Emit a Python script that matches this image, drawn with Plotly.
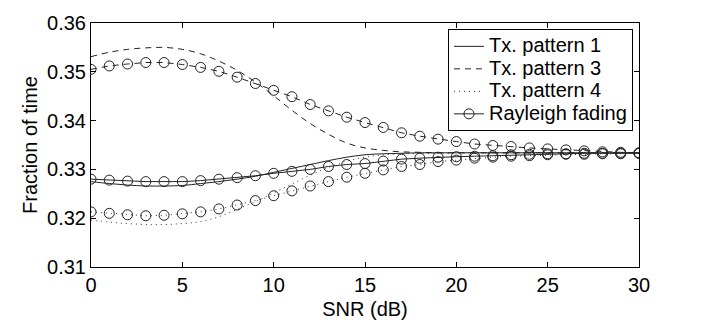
import plotly.graph_objs as go

# SNR grid (dB)
snr = list(range(0, 31))

# analytic curves at integer SNR
tx_pattern_1 = [0.3275, 0.3271, 0.3268, 0.3266, 0.3266, 0.3267, 0.3271, 0.3275, 0.3280, 0.3286,
                0.3294, 0.3302, 0.3310, 0.3318, 0.3325, 0.3330, 0.3332, 0.3333, 0.3334, 0.3334,
                0.3334, 0.3334, 0.3334, 0.3334, 0.3334, 0.3334, 0.3334, 0.3334, 0.3334, 0.3334, 0.3334]
tx_pattern_3 = [0.3531, 0.3540, 0.3546, 0.3549, 0.3550, 0.3546, 0.3537, 0.3522, 0.3503, 0.3479,
                0.3451, 0.3421, 0.3394, 0.3372, 0.3354, 0.3344, 0.3339, 0.3336, 0.3335, 0.3334,
                0.3334, 0.3334, 0.3334, 0.3334, 0.3334, 0.3334, 0.3334, 0.3334, 0.3334, 0.3334, 0.3334]
tx_pattern_4 = [0.3196, 0.3192, 0.3189, 0.3187, 0.3187, 0.3189, 0.3193, 0.3203, 0.3218, 0.3234,
                0.3252, 0.3270, 0.3288, 0.3304, 0.3317, 0.3325, 0.3330, 0.3332, 0.3333, 0.3333,
                0.3334, 0.3334, 0.3334, 0.3334, 0.3334, 0.3334, 0.3334, 0.3334, 0.3334, 0.3334, 0.3334]

# Rayleigh fading simulations (circles)
rayleigh_1 = [0.3280, 0.3278, 0.3276, 0.3275, 0.3275, 0.3275, 0.3277, 0.3280, 0.3283, 0.3287,
              0.3292, 0.3296, 0.3300, 0.3306, 0.3310, 0.3312, 0.3317, 0.3321, 0.3323, 0.3325,
              0.3326, 0.3327, 0.3328, 0.3330, 0.3331, 0.3332, 0.3332, 0.3333, 0.3333, 0.3333, 0.3333]
rayleigh_3 = [0.3505, 0.3512, 0.3516, 0.3519, 0.3519, 0.3515, 0.3509, 0.3501, 0.3489, 0.3476,
              0.3462, 0.3449, 0.3433, 0.3420, 0.3407, 0.3396, 0.3386, 0.3375, 0.3368, 0.3362,
              0.3357, 0.3352, 0.3349, 0.3347, 0.3344, 0.3342, 0.3340, 0.3338, 0.3336, 0.3335, 0.3334]
rayleigh_4 = [0.3213, 0.3210, 0.3207, 0.3205, 0.3206, 0.3209, 0.3213, 0.3219, 0.3227, 0.3236,
              0.3246, 0.3256, 0.3266, 0.3275, 0.3284, 0.3292, 0.3299, 0.3306, 0.3310, 0.3316,
              0.3319, 0.3323, 0.3325, 0.3327, 0.3328, 0.3330, 0.3331, 0.3331, 0.3332, 0.3332, 0.3333]

x_ticks = [0, 5, 10, 15, 20, 25, 30]
y_ticks = [0.31, 0.32, 0.33, 0.34, 0.35, 0.36]

FONT = "Liberation Sans, Arial, Helvetica, sans-serif"
FS = 20


def big(label):
    # legend rows are spaced from the legend font size, so keep that small
    # and enlarge only the label text
    return '<span style="font-size:%dpx">%s</span>' % (FS, label)


fig = go.Figure()

# analytic curves
fig.add_trace(go.Scatter(x=snr, y=tx_pattern_1, mode='lines', name=big('Tx. pattern 1'),
                         line=dict(color='#222', width=1, shape='spline')))
fig.add_trace(go.Scatter(x=snr, y=tx_pattern_3, mode='lines', name=big('Tx. pattern 3'),
                         line=dict(color='#222', width=1, dash='6px,5px', shape='spline')))
fig.add_trace(go.Scatter(x=snr, y=tx_pattern_4, mode='lines', name=big('Tx. pattern 4'),
                         line=dict(color='#333', width=1, dash='1px,4px', shape='spline')))

# simulated Rayleigh fading points
circle = dict(symbol='circle-open', size=10, color='#222', line=dict(width=1, color='#222'))
fig.add_trace(go.Scatter(x=snr, y=rayleigh_1, mode='lines+markers', name=big('Rayleigh fading'),
                         line=dict(color='#222', width=1), marker=circle))
fig.add_trace(go.Scatter(x=snr, y=rayleigh_3, mode='lines+markers', showlegend=False,
                         line=dict(color='#222', width=1, dash='6px,5px'), marker=circle))
fig.add_trace(go.Scatter(x=snr, y=rayleigh_4, mode='lines+markers', showlegend=False,
                         line=dict(color='#333', width=1, dash='1px,4px'), marker=circle))

axis_style = dict(showline=True, linecolor='black', linewidth=1, mirror='ticks',
                  ticks='inside', ticklen=5, tickcolor='black', showgrid=False,
                  zeroline=False, automargin=False,
                  tickfont=dict(family=FONT, size=FS, color='black'))

fig.update_xaxes(range=[0, 30], tickvals=x_ticks,
                 title=dict(text='SNR (dB)', font=dict(family=FONT, size=FS, color='black'),
                            standoff=6),
                 **axis_style)
fig.update_yaxes(range=[0.31, 0.36], tickvals=y_ticks, tickformat='.2f',
                 title=dict(text='Fraction of time', font=dict(family=FONT, size=FS, color='black'),
                            standoff=4),
                 **axis_style)

# the page body adds an 8px offset, so margins are shifted to compensate
fig.update_layout(width=706, height=320,
                  margin=dict(l=83, r=75, t=15, b=61),
                  paper_bgcolor='white', plot_bgcolor='white',
                  font=dict(family=FONT, size=FS, color='black'),
                  legend=dict(x=0.989, y=0.975, xanchor='right', yanchor='top',
                              bgcolor='white', bordercolor='black', borderwidth=1,
                              font=dict(family=FONT, size=15), tracegroupgap=0,
                              itemwidth=30))

fig.write_html("out.html")
